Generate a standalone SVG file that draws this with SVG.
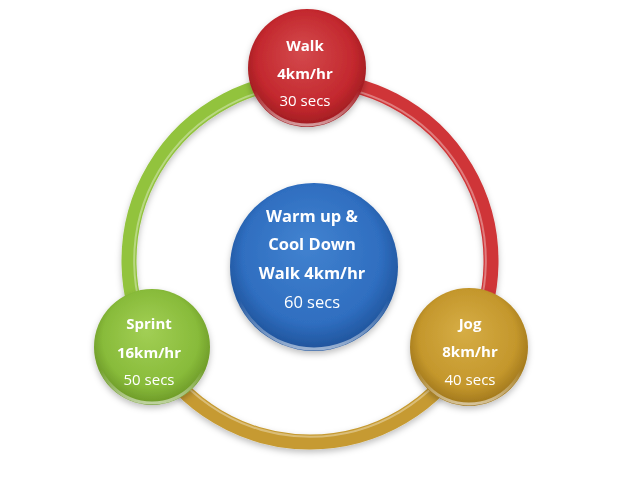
<svg xmlns="http://www.w3.org/2000/svg" width="628" height="488" viewBox="0 0 628 488">
  <defs>
    <radialGradient id="gRed" cx="50%" cy="45%" r="55%" fx="45%" fy="35%">
      <stop offset="0" stop-color="#d44a4d"/>
      <stop offset="0.75" stop-color="#c3282e"/>
      <stop offset="1" stop-color="#9c1b20"/>
    </radialGradient>
    <radialGradient id="gGreen" cx="50%" cy="45%" r="55%" fx="45%" fy="35%">
      <stop offset="0" stop-color="#a2cf55"/>
      <stop offset="0.75" stop-color="#88bb3a"/>
      <stop offset="1" stop-color="#6a9626"/>
    </radialGradient>
    <radialGradient id="gGold" cx="50%" cy="45%" r="55%" fx="45%" fy="35%">
      <stop offset="0" stop-color="#d6ad45"/>
      <stop offset="0.75" stop-color="#c4972c"/>
      <stop offset="1" stop-color="#9d741a"/>
    </radialGradient>
    <radialGradient id="gBlue" cx="50%" cy="45%" r="55%" fx="45%" fy="35%">
      <stop offset="0" stop-color="#4283d0"/>
      <stop offset="0.75" stop-color="#2f6ec0"/>
      <stop offset="1" stop-color="#1f5299"/>
    </radialGradient>
    <linearGradient id="gloss" x1="0" y1="0" x2="0" y2="1">
      <stop offset="0" stop-color="#ffffff" stop-opacity="0"/>
      <stop offset="0.7" stop-color="#ffffff" stop-opacity="0"/>
      <stop offset="1" stop-color="#ffffff" stop-opacity="0.55"/>
    </linearGradient>
    <filter id="shadow" x="-20%" y="-20%" width="140%" height="150%">
      <feDropShadow dx="0" dy="3" stdDeviation="3" flood-color="#000" flood-opacity="0.25"/>
    </filter>
  </defs>
  <style>
    .ring { fill: none; stroke-width: 15; stroke-linecap: butt; }
    .hl { fill: none; stroke: #ffffff; stroke-opacity: 0.35; stroke-width: 2; }
    .rim { fill: none; stroke: url(#gloss); stroke-width: 3; }
    .t { font-family: "Open Sans", "Liberation Sans", sans-serif; fill: #ffffff; text-anchor: middle; }
    .b { font-weight: bold; }
    .s { font-size: 15px; }
    .l { font-size: 16.5px; }
  </style>
  <rect width="628" height="488" fill="#ffffff"/>

  <g id="connectors" filter="url(#shadow)">
    <path class="ring" stroke="#92c33e" d="M 310 80 A 181 181 0 0 0 151.1 347.7"/>
    <path class="ring" stroke="#cf3638" d="M 310 80 A 181 181 0 0 1 468.9 347.7"/>
    <path class="ring" stroke="#c69a30" d="M 151.1 347.7 A 181 181 0 0 0 468.9 347.7"/>
    <path class="hl" d="M 310 85 A 176 176 0 0 0 155.5 345"/>
    <path class="hl" d="M 310 85 A 176 176 0 0 1 464.5 345"/>
    <path class="hl" d="M 155.5 345 A 176 176 0 0 0 464.5 345"/>
  </g>

  <g id="node-center" filter="url(#shadow)">
    <circle cx="314" cy="267" r="84" fill="url(#gBlue)"/>
    <circle cx="314" cy="267" r="82" class="rim"/>
    <text class="t b l" x="312" y="222">Warm up &amp;</text>
    <text class="t b l" x="312" y="250">Cool Down</text>
    <text class="t b l" x="312" y="279">Walk 4km/hr</text>
    <text class="t l" x="312" y="308">60 secs</text>
  </g>

  <g id="node-walk" filter="url(#shadow)">
    <circle cx="307" cy="68" r="59" fill="url(#gRed)"/>
    <circle cx="307" cy="68" r="57" class="rim"/>
    <text class="t b s" x="305" y="51">Walk</text>
    <text class="t b s" x="305" y="79">4km/hr</text>
    <text class="t s" x="305" y="106">30 secs</text>
  </g>

  <g id="node-jog" filter="url(#shadow)">
    <circle cx="469" cy="347" r="59" fill="url(#gGold)"/>
    <circle cx="469" cy="347" r="57" class="rim"/>
    <text class="t b s" x="470" y="329">Jog</text>
    <text class="t b s" x="470" y="357">8km/hr</text>
    <text class="t s" x="470" y="385">40 secs</text>
  </g>

  <g id="node-sprint" filter="url(#shadow)">
    <circle cx="152" cy="347" r="58" fill="url(#gGreen)"/>
    <circle cx="152" cy="347" r="56" class="rim"/>
    <text class="t b s" x="149" y="329">Sprint</text>
    <text class="t b s" x="149" y="358">16km/hr</text>
    <text class="t s" x="149" y="385">50 secs</text>
  </g>
</svg>
